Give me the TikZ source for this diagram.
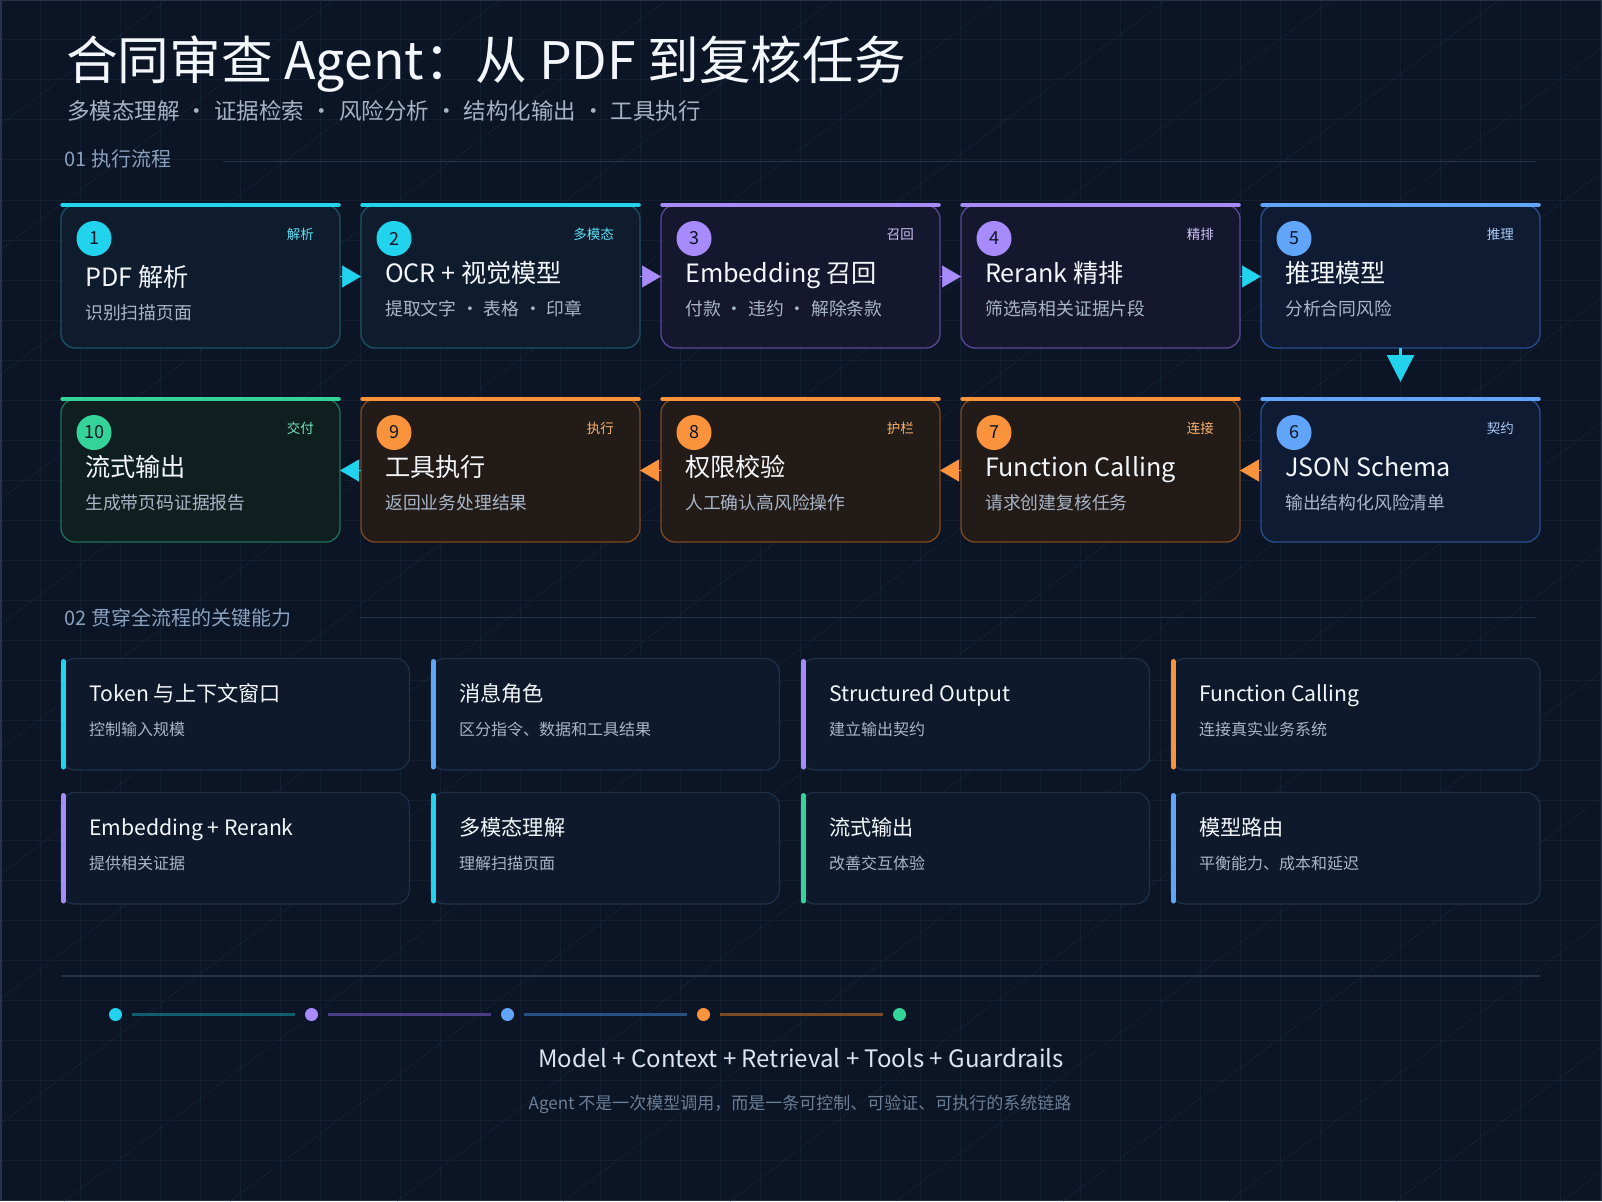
\documentclass[tikz,border=0pt]{standalone}
\usepackage{fontspec}
\setmainfont{Noto Sans CJK SC}
\usetikzlibrary{arrows.meta}
\definecolor{bg}{HTML}{0B1526}
\definecolor{gridc}{HTML}{121F31}
\definecolor{diagc}{HTML}{1E2C40}
\definecolor{frame}{HTML}{26334A}
\definecolor{secline}{HTML}{23354D}
\definecolor{sectxt}{HTML}{8AA2BF}
\definecolor{titletxt}{HTML}{F3F6FA}
\definecolor{subtxt}{HTML}{A6B3C5}
\definecolor{boxsub}{HTML}{A9B6C8}
\definecolor{numtxt}{HTML}{0B1526}
% accents
\definecolor{acc}{HTML}{22D3EE}
\definecolor{acp}{HTML}{A78BFA}
\definecolor{acb}{HTML}{60A5FA}
\definecolor{aco}{HTML}{FB923C}
\definecolor{acg}{HTML}{34D399}
% fills
\definecolor{flc}{HTML}{0F1C2E}
\definecolor{flp}{HTML}{15172E}
\definecolor{flb}{HTML}{0F1A33}
\definecolor{flo}{HTML}{231B18}
\definecolor{flg}{HTML}{0F1F1F}
% borders
\definecolor{bdc}{HTML}{1D5264}
\definecolor{bdp}{HTML}{5B4799}
\definecolor{bdb}{HTML}{2A4F8F}
\definecolor{bdo}{HTML}{80491F}
\definecolor{bdg}{HTML}{21705A}
% tags
\definecolor{tgc}{HTML}{5EDFF2}
\definecolor{tgp}{HTML}{CFC3F5}
\definecolor{tgb}{HTML}{A9C9F5}
\definecolor{tgo}{HTML}{F9B26D}
\definecolor{tgg}{HTML}{6EE7B7}
% dim line colors
\definecolor{dmc}{HTML}{0F5D6D}
\definecolor{dmp}{HTML}{4B3C86}
\definecolor{dmb}{HTML}{284F82}
\definecolor{dmo}{HTML}{7A4B22}
\definecolor{cardfill}{HTML}{0E1A2B}
\definecolor{cardbord}{HTML}{1E314A}
\definecolor{formtxt}{HTML}{DBE4F0}
\definecolor{mottotxt}{HTML}{6C7F96}

\newcommand\fs[1]{\fontsize{#1}{#1}\selectfont}
\newcommand\sepdot{\hspace{0.27em}·\hspace{0.27em}}

\tikzset{
  pbox/.style={rectangle, rounded corners=14pt, line width=1.3pt, minimum width=279pt,
    minimum height=143pt, anchor=north west, inner sep=0pt, outer sep=0pt},
  topbar/.style={line width=4.5pt, line cap=round},
  numdot/.style={circle, minimum size=35pt, inner sep=0pt, text=numtxt, font=\fs{18}},
  tagtxt/.style={anchor=base east, font=\fs{13.5}, inner sep=0pt},
  ttl/.style={anchor=base west, font=\fs{25.2}, text=titletxt, inner sep=0pt},
  subt/.style={anchor=base west, font=\fs{17.8}, text=boxsub, inner sep=0pt},
  flowarr/.style={draw=#1, line width=0.5pt, -{Triangle[length=19pt,width=22pt]}},
  cbox/.style={rectangle, rounded corners=14pt, line width=1.2pt, draw=cardbord, fill=cardfill,
    minimum height=111.5pt, anchor=north west, inner sep=0pt, outer sep=0pt},
  ctitle/.style={anchor=base west, font=\fs{21.2}, text=titletxt, inner sep=0pt},
  csub/.style={anchor=base west, font=\fs{16}, text=boxsub, inner sep=0pt},
  sechead/.style={anchor=base west, font=\fs{20}, text=sectxt, inner sep=0pt},
  secrule/.style={draw=secline, line width=1.2pt},
  dotn/.style={circle, minimum size=13pt, inner sep=0pt},
  dimline/.style={line width=2.5pt, shorten <=10pt, shorten >=10pt},
}

% name, X, Y, group, number, tag, title, sub, title offset
\newcommand\procbox[9]{%
  \node[pbox, draw=bd#4, fill=fl#4] (#1) at (#2,#3) {};
  \draw[topbar, ac#4] ([xshift=1.5pt]#1.north west) -- ([xshift=-1.5pt]#1.north east);
  \node[numdot, fill=ac#4] (#1n) at ([shift={(33,33.5)}]#1.north west) {#5};
  \node[tagtxt, text=tg#4] (#1t) at ([shift={(253,34)}]#1.north west) {#6};
  \node[ttl] (#1h) at ([shift={(24,77.5+#9)}]#1.north west) {#7};
  \node[subt] (#1s) at ([shift={(24,110+#9)}]#1.north west) {#8};
}
% name, X, Y, width, colour, title, sub
\newcommand\capcard[7]{%
  \node[cbox, minimum width=#4] (#1) at (#2,#3) {};
  \draw[line width=5pt, line cap=round, #5] ([shift={(2.5,3)}]#1.north west) -- ([shift={(2.5,-3)}]#1.south west);
  \node[ctitle] (#1h) at ([shift={(28,43)}]#1.north west) {#6};
  \node[csub] (#1s) at ([shift={(28,77)}]#1.north west) {#7};
}

\begin{document}
\begin{tikzpicture}[x=1pt,y=-1pt]
\useasboundingbox (0,0) rectangle (1602,1201);
\fill[bg] (0,0) rectangle (1602,1201);
\foreach \gx in {40,80,...,1600} \draw[gridc, line width=1pt] (\gx,0) -- (\gx,1201);
\foreach \gy in {40,80,...,1200} \draw[gridc, line width=1pt] (0,\gy) -- (1602,\gy);
\begin{scope}
  \clip (0,0) rectangle (1602,1201);
  \foreach \k in {0,...,19}
    \draw[diagc, line width=0.7pt, dash pattern=on 1.5pt off 1.5pt] (0.5+166.5*\k,0) -- ++(-1601.5,1201);
\end{scope}
\draw[frame, line width=1.5pt] (0.75,0.75) rectangle (1601.25,1200.25);

% header
\node[anchor=base west, font=\fs{51.7}, text=titletxt, inner sep=0pt] (title) at (66,80)
  {合同审查 Agent：从 PDF 到复核任务};
\node[anchor=base west, font=\fs{22.5}, text=subtxt, inner sep=0pt] (subtitle) at (67,119.5)
  {多模态理解\sepdot 证据检索\sepdot 风险分析\sepdot 结构化输出\sepdot 工具执行};
\node[sechead] (sec1) at (64.5,167) {01 执行流程};
\draw[secrule] (223,161.5) -- (1536,161.5);

% process boxes
\procbox{b1}{61}{205}{c}{1}{解析}{PDF 解析}{识别扫描页面}{4}
\procbox{b2}{361}{205}{c}{2}{多模态}{OCR + 视觉模型}{提取文字\sepdot 表格\sepdot 印章}{0}
\procbox{b3}{661}{205}{p}{3}{召回}{Embedding 召回}{付款\sepdot 违约\sepdot 解除条款}{0}
\procbox{b4}{961}{205}{p}{4}{精排}{Rerank 精排}{筛选高相关证据片段}{0}
\procbox{b5}{1261}{205}{b}{5}{推理}{推理模型}{分析合同风险}{0}
\procbox{b6}{1261}{399}{b}{6}{契约}{JSON Schema}{输出结构化风险清单}{0}
\procbox{b7}{961}{399}{o}{7}{连接}{Function Calling}{请求创建复核任务}{0}
\procbox{b8}{661}{399}{o}{8}{护栏}{权限校验}{人工确认高风险操作}{0}
\procbox{b9}{361}{399}{o}{9}{执行}{工具执行}{返回业务处理结果}{0}
\procbox{b10}{61}{399}{g}{10}{交付}{流式输出}{生成带页码证据报告}{0}

% connectors
\draw[flowarr=acc] (b1.east) -- (b2.west);
\draw[flowarr=acp] (b2.east) -- (b3.west);
\draw[flowarr=acp] (b3.east) -- (b4.west);
\draw[flowarr=acc] (b4.east) -- (b5.west);
\draw[acc, line width=2.5pt, -{Triangle[length=27pt,width=27pt]}, shorten >=17pt] (b5.south) -- (b6.north);
\draw[flowarr=aco] (b6.west) -- (b7.east);
\draw[flowarr=aco] (b7.west) -- (b8.east);
\draw[flowarr=aco] (b8.west) -- (b9.east);
\draw[flowarr=acc] (b9.west) -- (b10.east);

% section 2
\node[sechead] (sec2) at (64.5,625) {02 贯穿全流程的关键能力};
\draw[secrule] (360,617.5) -- (1536,617.5);

\capcard{c1}{61}{658.5}{348.5pt}{acc}{Token 与上下文窗口}{控制输入规模}
\capcard{c2}{431}{658.5}{348.5pt}{acb}{消息角色}{区分指令、数据和工具结果}
\capcard{c3}{801}{658.5}{348.5pt}{acp}{Structured Output}{建立输出契约}
\capcard{c4}{1171}{658.5}{369pt}{aco}{Function Calling}{连接真实业务系统}
\capcard{c5}{61}{792.5}{348.5pt}{acp}{Embedding + Rerank}{提供相关证据}
\capcard{c6}{431}{792.5}{348.5pt}{acc}{多模态理解}{理解扫描页面}
\capcard{c7}{801}{792.5}{348.5pt}{acg}{流式输出}{改善交互体验}
\capcard{c8}{1171}{792.5}{369pt}{acb}{模型路由}{平衡能力、成本和延迟}

% footer
\draw[secrule] (61,976) -- (1540,976);
\node[dotn, fill=acc] (d1) at (115.5,1014.5) {};
\node[dotn, fill=acp] (d2) at (311.5,1014.5) {};
\node[dotn, fill=acb] (d3) at (507.5,1014.5) {};
\node[dotn, fill=aco] (d4) at (703.5,1014.5) {};
\node[dotn, fill=acg] (d5) at (899.5,1014.5) {};
\draw[dimline, dmc] (d1) -- (d2);
\draw[dimline, dmp] (d2) -- (d3);
\draw[dimline, dmb] (d3) -- (d4);
\draw[dimline, dmo] (d4) -- (d5);

\node[anchor=base, font=\fs{24}, text=formtxt, inner sep=0pt] (formula) at (801,1067)
  {Model + Context + Retrieval + Tools + Guardrails};
\node[anchor=base, font=\fs{17}, text=mottotxt, inner sep=0pt] (motto) at (800,1109.5)
  {Agent 不是一次模型调用，而是一条可控制、可验证、可执行的系统链路};
\end{tikzpicture}
\end{document}
